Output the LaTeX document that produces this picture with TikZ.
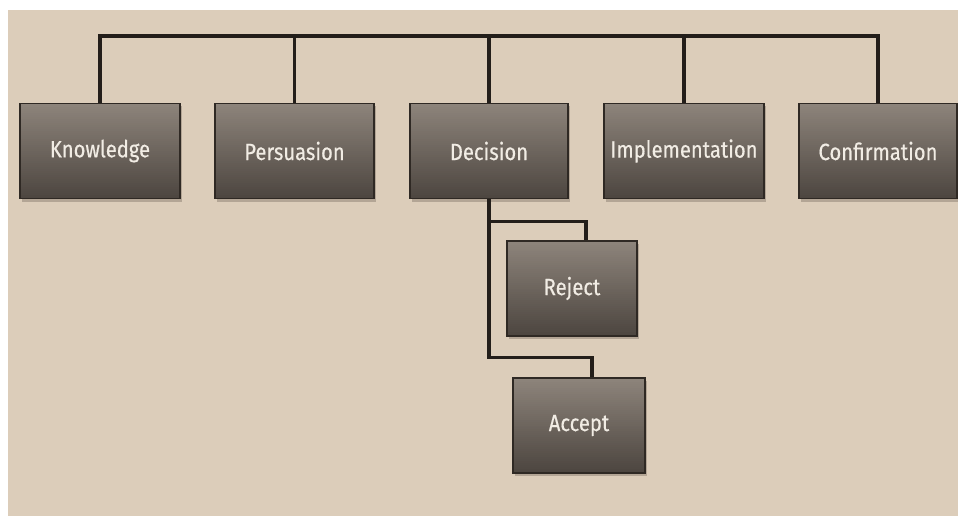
\documentclass[tikz,border=0pt]{standalone}
\usepackage{fontspec}
\usepackage{xcolor}
\usepackage{tikz}
\usetikzlibrary{calc}
\newfontfamily\boxfont[FakeStretch=0.86, FakeBold=0.4]{Fira Sans}
\definecolor{paper}{HTML}{DCCDBA}
\definecolor{boxtop}{HTML}{8D847B}
\definecolor{boxbot}{HTML}{4D4640}
\definecolor{boxedge}{HTML}{2F2924}
\definecolor{shade}{HTML}{B3A595}
\definecolor{wire}{HTML}{231E1A}
\definecolor{ink}{HTML}{F1ECE4}
\tikzset{
  stage/.style={draw=boxedge, line width=1.4pt, fill=boxbot,
    minimum height=95pt, inner sep=0pt, text=ink,
    font=\boxfont\fontsize{23.5}{25}\selectfont,
    preaction={fill=shade, transform canvas={shift={(2pt,-3pt)}}},
    path picture={
      \foreach \i in {0,...,47}{
        \pgfmathsetmacro\pct{100-\i*100/47}
        \fill[boxtop!\pct!boxbot]
          ($(path picture bounding box.north west)!\i/48!(path picture bounding box.south west)$)
          rectangle
          ($(path picture bounding box.north east)!{(\i+1.4)/48}!(path picture bounding box.south east)$);
      }
    }},
  link/.style={draw=wire, line width=3.4pt, line join=miter},
}
\begin{document}
\begin{tikzpicture}[x=1pt, y=-1pt]
\useasboundingbox (0,0) rectangle (958,516);
\fill[white] (0,0) rectangle (958,516);
\fill[paper] (8,10) rectangle (958,516);
\coordinate (bus) at (0,36);
% the five stages
\node[stage, minimum width=160pt] (know) at (100,151) {Knowledge};
\node[stage, minimum width=159pt] (pers) at (294.5,151) {Persuasion};
\node[stage, minimum width=158pt] (deci) at (489,151) {Decision};
\node[stage, minimum width=160pt] (impl) at (684,151) {Implementation};
\node[stage, minimum width=158pt] (conf) at (878,151) {Confirmation};
% outcomes of the decision
\node[stage, minimum width=130pt] (rej) at (572,288.5) {Reject};
\node[stage, minimum width=132pt] (acc) at (579,425.5) {Accept};
% top bus
\draw[link] (know.north) -- (know.north |- bus) -| (conf.north);
\draw[link] (pers.north) -- (pers.north |- bus);
\draw[link] (deci.north) -- (deci.north |- bus);
\draw[link] (impl.north) -- (impl.north |- bus);
% decision branches
\draw[link] (deci.south) -- ++(0,22) -| ([xshift=14pt]rej.north);
\draw[link] (deci.south) -- ++(0,158) -| ([xshift=13pt]acc.north);
\end{tikzpicture}
\end{document}
